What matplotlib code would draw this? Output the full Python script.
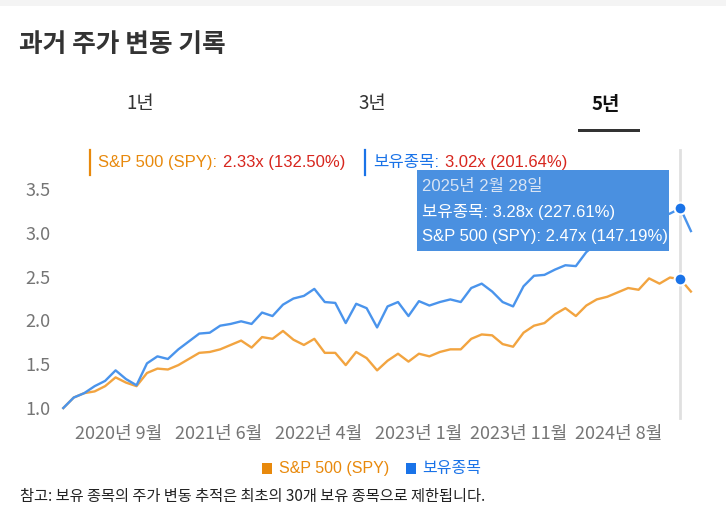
import matplotlib
matplotlib.use('Agg')
import matplotlib.pyplot as plt
import numpy as np
from matplotlib.patches import Rectangle
from matplotlib.lines import Line2D

plt.rcParams['font.family'] = ['Liberation Sans', 'Noto Sans CJK KR']

# monthly growth of 1 (x), last 5 years
spy = [1.00, 1.12, 1.17, 1.19, 1.25, 1.35, 1.29, 1.25, 1.40, 1.45,
       1.44, 1.49, 1.56, 1.63, 1.64, 1.67, 1.72, 1.77, 1.69, 1.81,
       1.79, 1.88, 1.78, 1.72, 1.79, 1.63, 1.63, 1.49, 1.64, 1.57,
       1.43, 1.54, 1.62, 1.53, 1.62, 1.59, 1.64, 1.67, 1.67, 1.79,
       1.84, 1.83, 1.73, 1.70, 1.86, 1.94, 1.97, 2.07, 2.14, 2.05,
       2.17, 2.24, 2.27, 2.32, 2.37, 2.35, 2.48, 2.42, 2.49, 2.47, 2.33]
hold = [1.00, 1.12, 1.17, 1.25, 1.31, 1.43, 1.33, 1.26, 1.51, 1.59,
        1.56, 1.67, 1.76, 1.85, 1.86, 1.94, 1.96, 1.99, 1.96, 2.09,
        2.05, 2.18, 2.25, 2.28, 2.36, 2.21, 2.20, 1.97, 2.19, 2.14,
        1.92, 2.16, 2.21, 2.05, 2.22, 2.17, 2.21, 2.24, 2.21, 2.37,
        2.42, 2.33, 2.21, 2.16, 2.39, 2.51, 2.52, 2.58, 2.63, 2.62,
        2.78, 2.88, 2.95, 3.00, 3.06, 3.04, 3.13, 3.18, 3.22, 3.28, 3.02]

tick_labels = ['2020년 9월', '2021년 6월', '2022년 4월', '2023년 1월', '2023년 11월', '2024년 8월']
tick_pos = [5.3, 14.86, 24.42, 33.98, 43.54, 53.1]
yticks = [1.0, 1.5, 2.0, 2.5, 3.0, 3.5]

spy_name = 'S&P 500 (SPY)'
hold_name = '보유종목'
spy_total, spy_pct = 2.33, 132.50
hold_total, hold_pct = 3.02, 201.64
hi_idx = 59
hi_date = '2025년 2월 28일'
hi_spy_pct = 147.19
hi_hold_pct = 227.61

ORANGE_LINE = '#F2A440'
BLUE_LINE = '#4A94EC'
ORANGE = '#E8890C'
BLUE = '#1A73E8'
RED = '#D7261E'
GRAY = '#757575'

W, H = 726, 512
def fx(x): return x / W
def fy(y): return 1 - y / H

fig = plt.figure(figsize=(W / 100, H / 100), dpi=100)
fig.patch.set_facecolor('white')
fig.add_artist(Rectangle((0, fy(6)), 1, 6 / H, color='#F4F4F4', lw=0))

# title + tabs
fig.text(fx(19), fy(45), '과거 주가 변동 기록', fontsize=18.5, fontweight='bold',
         color='#333333', va='center', family=['Noto Sans CJK KR'])
for lab, cx, bold in [('1년', 140, False), ('3년', 372, False), ('5년', 606, True)]:
    fig.text(fx(cx), fy(104), lab, fontsize=13.5, ha='center', va='center',
             fontweight='bold' if bold else 'normal',
             color='#111111' if bold else '#333333', family=['Noto Sans CJK KR'])
fig.add_artist(Rectangle((fx(578), fy(132)), 62 / W, 3.5 / H, color='#333333', lw=0))

# chart
ax = fig.add_axes([fx(63.3), fy(416.8), (690.9 - 63.3) / W, (416.8 - 171.5) / H])
x = np.arange(len(spy))
ax.axvline(hi_idx, ymin=-0.005, ymax=1.088, color='#E0E0E0', lw=2, clip_on=False, zorder=1)
ax.plot(x, spy, color=ORANGE_LINE, lw=1.7, clip_on=False, zorder=2)
ax.plot(x, hold, color=BLUE_LINE, lw=1.7, clip_on=False, zorder=2)
for s in (spy, hold):
    ax.plot(hi_idx, s[hi_idx], 'o', ms=8.5, mfc=BLUE, mec='white', mew=1.5,
            clip_on=False, zorder=4)
ax.set_xlim(0, len(spy) - 1)
ax.set_ylim(0.9, 3.7)
for sp in ax.spines.values():
    sp.set_visible(False)
ax.set_yticks(yticks)
ax.set_yticklabels([f'{v:.1f}' for v in yticks])
ax.set_xticks(tick_pos)
ax.set_xticklabels(tick_labels)
ax.tick_params(length=0, labelsize=13, labelcolor=GRAY)
ax.tick_params(axis='y', pad=9)
ax.tick_params(axis='x', pad=6)
for lab in ax.get_xticklabels() + ax.get_yticklabels():
    lab.set_family(['Noto Sans CJK KR'])

# header values
def rich(x0, y0, name, val, barcol):
    fig.add_artist(Line2D([fx(x0 - 8.5)] * 2, [fy(150), fy(175)], color=barcol, lw=1.6))
    t1 = fig.text(fx(x0), fy(y0), name + ':', fontsize=12, color=barcol, va='center')
    ax.annotate(val, xy=(1, 0.5), xycoords=t1, xytext=(4, 0), textcoords='offset points',
                va='center', ha='left', fontsize=12, color=RED, annotation_clip=False)

rich(98, 162, spy_name, f'{spy_total:.2f}x ({spy_pct:.2f}%)', ORANGE)
rich(373, 162, hold_name, f'{hold_total:.2f}x ({hold_pct:.2f}%)', BLUE)

# tooltip
fig.add_artist(Rectangle((fx(417), fy(251)), (669 - 417) / W, (251 - 170) / H,
                         color='#4A90E0', lw=0, zorder=10))
fig.text(fx(422), fy(187), hi_date, fontsize=12, color='#D8E4F4', va='center', zorder=11)
fig.text(fx(422), fy(212), f'{hold_name}: {hold[hi_idx]:.2f}x ({hi_hold_pct:.2f}%)',
         fontsize=12, color='white', va='center', zorder=11)
fig.text(fx(422), fy(237), f'{spy_name}: {spy[hi_idx]:.2f}x ({hi_spy_pct:.2f}%)',
         fontsize=12, color='white', va='center', zorder=11)

# legend
fig.add_artist(Rectangle((fx(262), fy(474)), 10 / W, 11 / H, color=ORANGE, lw=0))
fig.text(fx(279), fy(468), spy_name, fontsize=11.5, color=ORANGE, va='center')
fig.add_artist(Rectangle((fx(406), fy(474)), 10 / W, 11 / H, color=BLUE, lw=0))
fig.text(fx(422), fy(468), hold_name, fontsize=11.5, color=BLUE, va='center')

fig.text(fx(20), fy(496), '참고: 보유 종목의 주가 변동 추적은 최초의 30개 보유 종목으로 제한됩니다.',
         fontsize=11, color='#222222', va='center', family=['Noto Sans CJK KR'])

fig.savefig('out.png', dpi=100)
